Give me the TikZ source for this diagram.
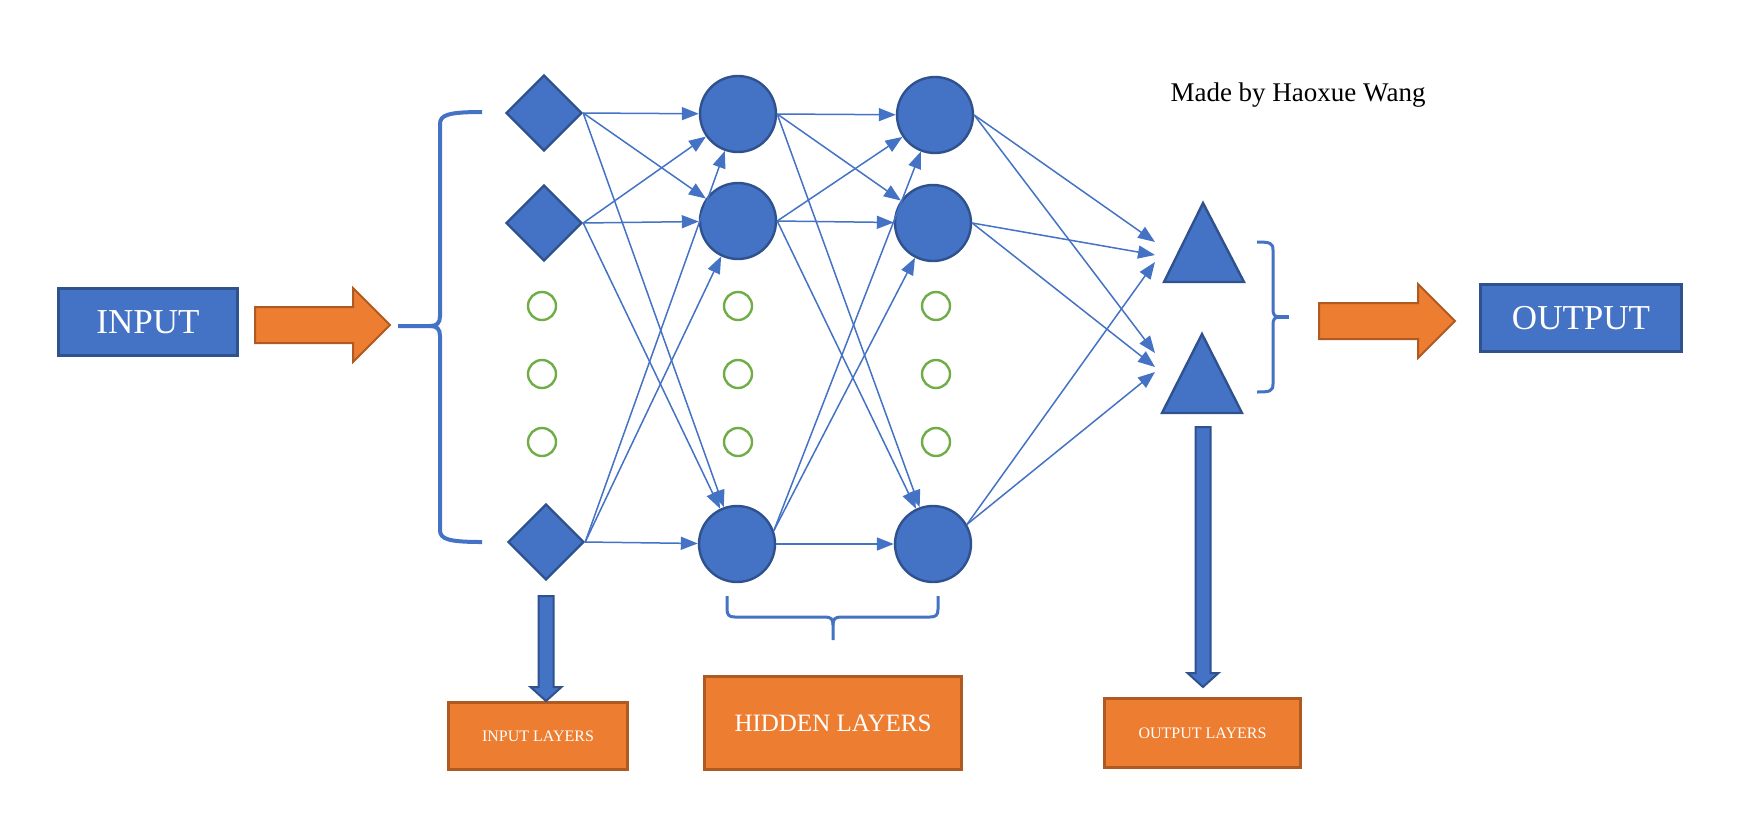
\documentclass[tikz,border=0pt]{standalone}
\usepackage{fontspec}
\setmainfont{Liberation Serif}
\usetikzlibrary{shapes.geometric,arrows.meta,calc}

\definecolor{nnblue}{HTML}{4472C4}
\definecolor{nnedge}{HTML}{2F528F}
\definecolor{nnorange}{HTML}{ED7D31}
\definecolor{nnbrown}{HTML}{AE5A21}
\definecolor{nngreen}{HTML}{70AD47}

% block arrows: tail, tip
\newcommand{\rightblock}[2]{%
  \filldraw[fatarrow] ($(#1)+(0,-18)$) -- ($(#2)+(-37,-18)$) -- ($(#2)+(-37,-37)$) -- (#2)
    -- ($(#2)+(-37,37)$) -- ($(#2)+(-37,18)$) -- ($(#1)+(0,18)$) -- cycle;}
\newcommand{\downblock}[2]{%
  \filldraw[downarrow] ($(#1)+(-7.5,0)$) -- ($(#2)+(-7.5,-14)$) -- ($(#2)+(-15.5,-14)$) -- (#2)
    -- ($(#2)+(15.5,-14)$) -- ($(#2)+(7.5,-14)$) -- ($(#1)+(7.5,0)$) -- cycle;}

\begin{document}
\begin{tikzpicture}[x=0.5pt, y=-0.5pt,
    every node/.style={align=center, inner sep=0pt},
    unit/.style={circle, fill=nnblue, draw=nnedge, line width=1.2pt, minimum size=38pt},
    inunit/.style={diamond, fill=nnblue, draw=nnedge, line width=1.2pt, minimum size=38pt},
    gap/.style={circle, draw=nngreen, line width=1.2pt, minimum size=14pt},
    tri/.style={fill=nnblue, draw=nnedge, line width=1.2pt, line join=miter},
    bluebox/.style={rectangle, fill=nnblue, draw=nnedge, line width=1.5pt, text=white,
        minimum height=33.5pt, font=\fontsize{17.5}{20}\selectfont},
    orangebox/.style={rectangle, fill=nnorange, draw=nnbrown, line width=1.5pt, text=white},
    link/.style={draw=nnblue, line width=0.75pt, -{Triangle[length=8.5pt,width=6.5pt]}},
    fatarrow/.style={fill=nnorange, draw=nnbrown, line width=1pt, line join=miter},
    downarrow/.style={fill=nnblue, draw=nnedge, line width=1pt, line join=miter},
    bracket/.style={draw=nnblue, line width=1.5pt, line cap=butt}]

    \useasboundingbox (0,0) rectangle (1750,816);

    \node (in) [bluebox, minimum width=89.5pt] at (148,322) {INPUT};
    \node (out) [bluebox, minimum width=100.5pt] at (1581,318) {OUTPUT};
    \node (credit) [anchor=base, font=\fontsize{13.5}{16}\selectfont] at (1298,101) {Made by Haoxue Wang};

    \node (d1) [inunit] at (544,113) {};
    \node (d2) [inunit] at (544,223) {};
    \node (d3) [inunit] at (546,542) {};

    \node (h1a) [unit] at (738,114) {};
    \node (h1b) [unit] at (738,221) {};
    \node (h1c) [unit] at (737,544) {};
    \node (h2a) [unit] at (935,115) {};
    \node (h2b) [unit] at (933,223) {};
    \node (h2c) [unit] at (933,544) {};

    \foreach \x/\n in {542/i, 738/p, 936/q}
        \foreach \y/\k in {306/1, 374/2, 442/3}
            \node (gap-\n\k) [gap] at (\x,\y) {};

    \filldraw[tri] (1164,282) -- (1203,203) -- (1244,282) -- cycle;
    \filldraw[tri] (1162,413) -- (1202,334) -- (1242,413) -- cycle;
    \coordinate (t1-in) at (1155,252);
    \coordinate (t2-in) at (1155,363);

    \foreach \s in {d1,d2,d3}
        \foreach \t in {h1a,h1b,h1c}
            \draw[link] (\s.east) -- (\t);
    \foreach \s/\t in {h1a.east/h2a, h1a.east/h2b, h1a.east/h2c, h1b.east/h2a, h1b.east/h2b,
                       h1b.east/h2c, h1c.20/h2a, h1c.20/h2b, h1c.east/h2c}
        \draw[link] (\s) -- (\t);
    \foreach \s/\t/\d in {h2a.east/t1/-10, h2b.east/t1/3, h2c.30/t1/10,
                          h2a.east/t2/-10, h2b.east/t2/4, h2c.30/t2/9}
        \draw[link] (\s) -- ($(\t-in)+(0,\d)$);

    \draw[bracket, line width=2pt] (482,112) .. controls (448,112) and (440,115) .. (440,124) -- (440,316)
        .. controls (440,323) and (437,326) .. (430,326) -- (398,326);
    \draw[bracket, line width=2pt] (482,542) .. controls (448,542) and (440,539) .. (440,530) -- (440,336)
        .. controls (440,329) and (437,326) .. (430,326);

    \draw[bracket] (1257,242) .. controls (1270,242) and (1273,243) .. (1273,250) -- (1273,310)
        .. controls (1273,315) and (1275,317) .. (1280,317);
    \draw[bracket] (1257,392) .. controls (1270,392) and (1273,391) .. (1273,384) -- (1273,324)
        .. controls (1273,319) and (1275,317) .. (1280,317);
    \draw[bracket, line width=2pt] (1276,317) -- (1289,317);

    \draw[bracket] (727,596) -- (727,609) .. controls (727,615) and (729,617) .. (735,617) -- (825,617)
        .. controls (831,617) and (833,619) .. (833,625) -- (833,640);
    \draw[bracket] (938,596) -- (938,609) .. controls (938,615) and (936,617) .. (930,617) -- (841,617)
        .. controls (835,617) and (833,619) .. (833,625);

    \node (inl) [orangebox, minimum width=89.5pt, minimum height=33.5pt, font=\fontsize{8}{10}\selectfont]
        at (538,736) {INPUT LAYERS};
    \node (hidl) [orangebox, minimum width=128.5pt, minimum height=46.5pt, font=\fontsize{12.5}{15}\selectfont]
        at (833,723) {HIDDEN LAYERS};
    \node (outl) [orangebox, minimum width=98pt, minimum height=34.5pt, font=\fontsize{8}{10}\selectfont]
        at (1202.5,733) {OUTPUT LAYERS};

    \coordinate (a1-tail) at (255,325);
    \coordinate (a1-tip) at (390,325);
    \coordinate (a2-tail) at (1319,321);
    \coordinate (a2-tip) at (1455,321);
    \rightblock{a1-tail}{a1-tip}
    \rightblock{a2-tail}{a2-tip}

    \coordinate (d3-foot) at ($(d3.south)+(0,15)$);
    \coordinate (i-tip) at (d3-foot |- inl.north);
    \coordinate (t2-foot) at (1203,427);
    \coordinate (o-tip) at ($(t2-foot |- outl.north)+(0,-10)$);
    \downblock{d3-foot}{i-tip}
    \downblock{t2-foot}{o-tip}
\end{tikzpicture}
\end{document}
